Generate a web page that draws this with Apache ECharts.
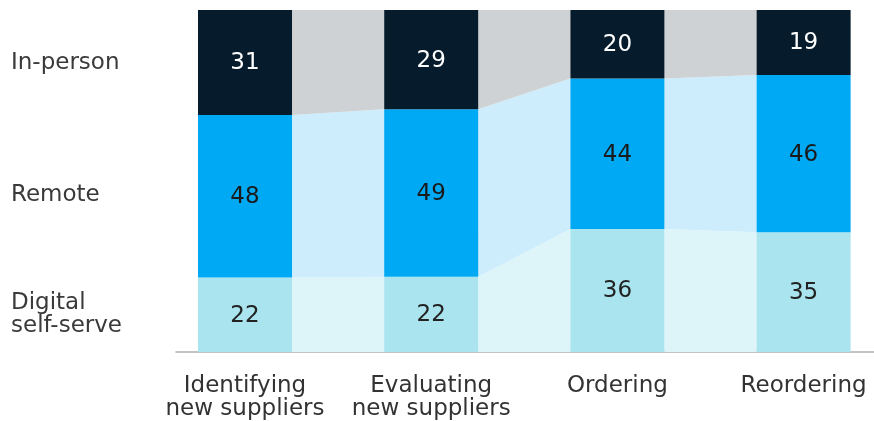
<!DOCTYPE html>
<html>
<head>
<meta charset="utf-8">
<script src="https://cdn.jsdelivr.net/npm/echarts@6/dist/echarts.min.js"></script>
<style>html,body{margin:0;padding:0;background:#fff;}#c{width:874px;height:421px;}</style>
</head>
<body>
<div id="c"></div>
<script>
const categories = ['Identifying\nnew suppliers', 'Evaluating\nnew suppliers', 'Ordering', 'Reordering'];
const channels = ['Digital\nself-serve', 'Remote', 'In-person']; // bottom to top
const digital = [22, 22, 36, 35];
const remote = [48, 49, 44, 46];
const inPerson = [31, 29, 20, 19];

const layers = [digital, remote, inPerson];
const barColors = ['#a9e4ef', '#00a9f4', '#061c2c'];
const linkColors = ['#ddf4f8', '#cdedfd', '#cfd2d5'];
const labelColors = ['#222222', '#1a1a1a', '#ffffff'];
const FONT = '"DejaVu Sans", Verdana, sans-serif';
const FS = 23;
const HW = 0.2525; // half bar width in category units
const XMIN = -0.3706, XMAX = 3.378;

function stackOf(i) {
  const total = layers.reduce((s, a) => s + a[i], 0);
  let acc = 0;
  return layers.map(a => {
    const lo = acc / total * 100;
    acc += a[i];
    return [lo, acc / total * 100];
  });
}

const chart = echarts.init(document.getElementById('c'), null, {renderer: 'canvas'});
chart.setOption({
  animation: false,
  grid: {left: 176, right: 0, top: 10, bottom: 68},
  xAxis: {
    type: 'value', min: XMIN, max: XMAX,
    splitLine: {show: false},
    axisTick: {show: false},
    axisLine: {show: true, lineStyle: {color: '#b0b0b0', width: 1.5}},
    axisLabel: {
      customValues: [0, 1, 2, 3],
      formatter: v => categories[Math.round(v)],
      color: '#333', fontSize: FS, fontFamily: FONT, lineHeight: 23.5, margin: 22,
      align: 'center'
    }
  },
  yAxis: {type: 'value', min: 0, max: 100, show: false},
  series: [{
    type: 'custom',
    clip: false,
    data: categories.map((c, i) => [i, 100]),
    encode: {x: 0, y: 1},
    renderItem: function (params, api) {
      const i = params.dataIndex;
      const st = stackOf(i);
      const xl = api.coord([i - HW, 0])[0];
      const xr = api.coord([i + HW, 0])[0];
      const children = [];
      if (i < categories.length - 1) {
        const st2 = stackOf(i + 1);
        const nl = api.coord([i + 1 - HW, 0])[0];
        st.forEach((s, l) => {
          children.push({
            type: 'polygon',
            shape: {points: [
              [xr, api.coord([0, s[0]])[1]], [xr, api.coord([0, s[1]])[1]],
              [nl, api.coord([0, st2[l][1]])[1]], [nl, api.coord([0, st2[l][0]])[1]]
            ]},
            style: {fill: linkColors[l]}
          });
        });
      }
      st.forEach((s, l) => {
        const yT = api.coord([0, s[1]])[1];
        const yB = api.coord([0, s[0]])[1];
        children.push({
          type: 'rect',
          shape: {x: xl, y: yT, width: xr - xl, height: yB - yT},
          style: {fill: barColors[l]}
        });
        children.push({
          type: 'text',
          x: (xl + xr) / 2, y: (yT + yB) / 2 + 1,
          style: {text: String(layers[l][i]), fill: labelColors[l], font: FS + 'px ' + FONT,
                  align: 'center', verticalAlign: 'middle'}
        });
        if (i === 0) {
          children.push({
            type: 'text',
            x: api.coord([XMIN, 0])[0] - 165, y: (yT + yB) / 2 + [0, -1, 1][l],
            style: {text: channels[l], fill: '#3a3a3a', font: FS + 'px ' + FONT, lineHeight: 23.5,
                    align: 'left', verticalAlign: 'middle'}
          });
        }
      });
      return {type: 'group', children: children};
    }
  }]
});
</script>
</body>
</html>
